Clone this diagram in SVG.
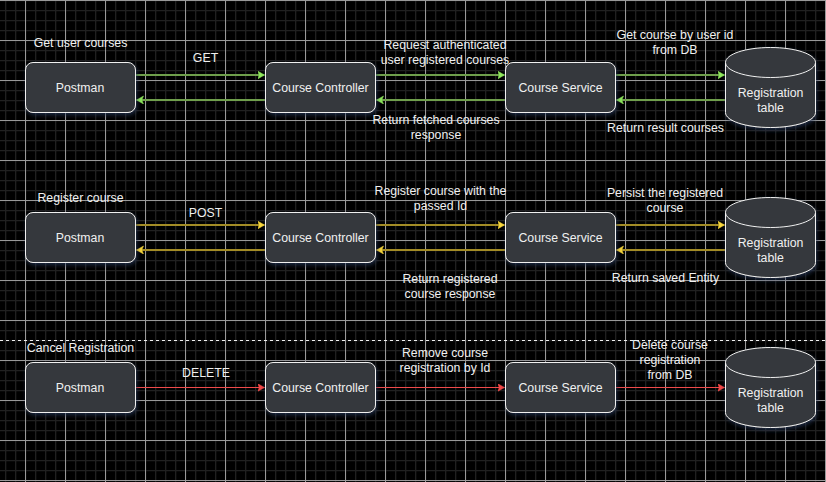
<svg xmlns="http://www.w3.org/2000/svg" width="826" height="482" viewBox="0 0 826 482">
<style>
text{font-family:"Liberation Sans",Arial,sans-serif;font-size:12.3px;fill:#f0f0f0;text-anchor:middle}
.n{fill:#36393d;stroke:#f0f0f0;stroke-width:1;filter:url(#sh)}
.c{fill:none;stroke:#f0f0f0;stroke-width:1}
.g{stroke:#6f9f4c;stroke-width:2;fill:none}
.y{stroke:#a38c26;stroke-width:2;fill:none}
.r{stroke:#f24a4a;stroke-width:1.2;fill:none}
</style>
<defs>
<pattern id="minor" width="10" height="10" patternUnits="userSpaceOnUse" x="5" y="0"><path d="M0.5 0V10M0 0.5H10" stroke="#202020" stroke-width="1.6" fill="none"/></pattern>
<pattern id="major" width="40" height="40" patternUnits="userSpaceOnUse" x="25" y="0"><path d="M0.5 0V40M0 0.5H40" stroke="#999" stroke-width="1" fill="none"/></pattern>
<filter id="sh" x="-15%" y="-20%" width="130%" height="145%"><feDropShadow dx="1" dy="2" stdDeviation="2" flood-color="#2a3a60" flood-opacity="0.7"/></filter>
<marker id="mg" markerWidth="9" markerHeight="9" refX="7" refY="4" orient="auto" markerUnits="userSpaceOnUse"><path d="M0 0L7 4L0 8L1.8 4Z" fill="#8fe85c" stroke="#8fe85c" stroke-width=".5"/></marker>
<marker id="my" markerWidth="9" markerHeight="9" refX="7" refY="4" orient="auto" markerUnits="userSpaceOnUse"><path d="M0 0L7 4L0 8L1.8 4Z" fill="#f7d63c" stroke="#f7d63c" stroke-width=".5"/></marker>
<marker id="mr" markerWidth="9" markerHeight="9" refX="7" refY="4" orient="auto" markerUnits="userSpaceOnUse"><path d="M0 0L7 4L0 8L1.8 4Z" fill="#f04848" stroke="#f04848" stroke-width=".5"/></marker>
</defs>
<rect width="826" height="482" fill="#000"/>
<rect width="826" height="482" fill="url(#minor)"/>
<rect width="826" height="482" fill="url(#major)"/>
<path d="M0 340.5H826" stroke="#f0f0f0" stroke-width="1" stroke-dasharray="3 3" fill="none"/>

<g id="connectors">
<g class="g">
<path d="M136 75H264.5" marker-end="url(#mg)"/><path d="M265 100H136.5" marker-end="url(#mg)"/>
<path d="M376 75H504.5" marker-end="url(#mg)"/><path d="M505 100H376.5" marker-end="url(#mg)"/>
<path d="M616 75H724.5" marker-end="url(#mg)"/><path d="M725 100H616.5" marker-end="url(#mg)"/>
</g>
<g class="y">
<path d="M136 225H264.5" marker-end="url(#my)"/><path d="M265 250H136.5" marker-end="url(#my)"/>
<path d="M376 225H504.5" marker-end="url(#my)"/><path d="M505 250H376.5" marker-end="url(#my)"/>
<path d="M616 225H724.5" marker-end="url(#my)"/><path d="M725 250H616.5" marker-end="url(#my)"/>
</g>
<g class="r">
<path d="M136 387.5H264.5" marker-end="url(#mr)"/>
<path d="M376 387.5H504.5" marker-end="url(#mr)"/>
<path d="M616 387.5H724.5" marker-end="url(#mr)"/>
</g>
</g>

<g id="postman1"><rect class="n" x="25.5" y="62.5" width="110" height="50" rx="7.5"/><text x="80" y="92">Postman</text></g>
<g id="controller1"><rect class="n" x="265.5" y="62.5" width="110" height="50" rx="7.5"/><text x="320.5" y="92">Course Controller</text></g>
<g id="service1"><rect class="n" x="505.5" y="62.5" width="110" height="50" rx="7.5"/><text x="560.5" y="92">Course Service</text></g>
<g id="table1"><path class="n" d="M725.5 62.5C725.5 54.2 745.6 47.5 770.5 47.5S815.5 54.2 815.5 62.5V112.5C815.5 120.8 795.4 127.5 770.5 127.5S725.5 120.8 725.5 112.5Z"/><path class="c" d="M725.5 62.5C725.5 70.8 745.6 77.5 770.5 77.5S815.5 70.8 815.5 62.5"/><text x="770.5" y="97">Registration</text><text x="770.5" y="112">table</text></g>

<g id="postman2"><rect class="n" x="25.5" y="212.5" width="110" height="50" rx="7.5"/><text x="80" y="242">Postman</text></g>
<g id="controller2"><rect class="n" x="265.5" y="212.5" width="110" height="50" rx="7.5"/><text x="320.5" y="242">Course Controller</text></g>
<g id="service2"><rect class="n" x="505.5" y="212.5" width="110" height="50" rx="7.5"/><text x="560.5" y="242">Course Service</text></g>
<g id="table2"><path class="n" d="M725.5 212.5C725.5 204.2 745.6 197.5 770.5 197.5S815.5 204.2 815.5 212.5V262.5C815.5 270.8 795.4 277.5 770.5 277.5S725.5 270.8 725.5 262.5Z"/><path class="c" d="M725.5 212.5C725.5 220.8 745.6 227.5 770.5 227.5S815.5 220.8 815.5 212.5"/><text x="770.5" y="247">Registration</text><text x="770.5" y="262">table</text></g>

<g id="postman3"><rect class="n" x="25.5" y="362.5" width="110" height="50" rx="7.5"/><text x="80" y="392">Postman</text></g>
<g id="controller3"><rect class="n" x="265.5" y="362.5" width="110" height="50" rx="7.5"/><text x="320.5" y="392">Course Controller</text></g>
<g id="service3"><rect class="n" x="505.5" y="362.5" width="110" height="50" rx="7.5"/><text x="560.5" y="392">Course Service</text></g>
<g id="table3"><path class="n" d="M725.5 362.5C725.5 354.2 745.6 347.5 770.5 347.5S815.5 354.2 815.5 362.5V412.5C815.5 420.8 795.4 427.5 770.5 427.5S725.5 420.8 725.5 412.5Z"/><path class="c" d="M725.5 362.5C725.5 370.8 745.6 377.5 770.5 377.5S815.5 370.8 815.5 362.5"/><text x="770.5" y="397">Registration</text><text x="770.5" y="412">table</text></g>

<g id="labels">
<text x="80.5" y="47">Get user courses</text>
<text x="205.5" y="62">GET</text>
<text x="445" y="49">Request authenticated</text><text x="445" y="64">user registered courses</text>
<text x="675" y="39">Get course by user id</text><text x="675" y="54">from DB</text>
<text x="436" y="124">Return fetched courses</text><text x="436" y="139">response</text>
<text x="665.5" y="132">Return result courses</text>
<text x="80.5" y="202">Register course</text>
<text x="205.5" y="217">POST</text>
<text x="440.5" y="195">Register course with the</text><text x="440.5" y="210">passed Id</text>
<text x="665" y="197">Persist the registered</text><text x="665" y="212">course</text>
<text x="450" y="283">Return registered</text><text x="450" y="298">course response</text>
<text x="665.5" y="282">Return saved Entity</text>
<text x="80.5" y="352">Cancel Registration</text>
<text x="206" y="377">DELETE</text>
<text x="445" y="357">Remove course</text><text x="445" y="372">registration by Id</text>
<text x="670" y="349">Delete course</text><text x="670" y="364">registration</text><text x="670" y="379">from DB</text>
</g>
</svg>
